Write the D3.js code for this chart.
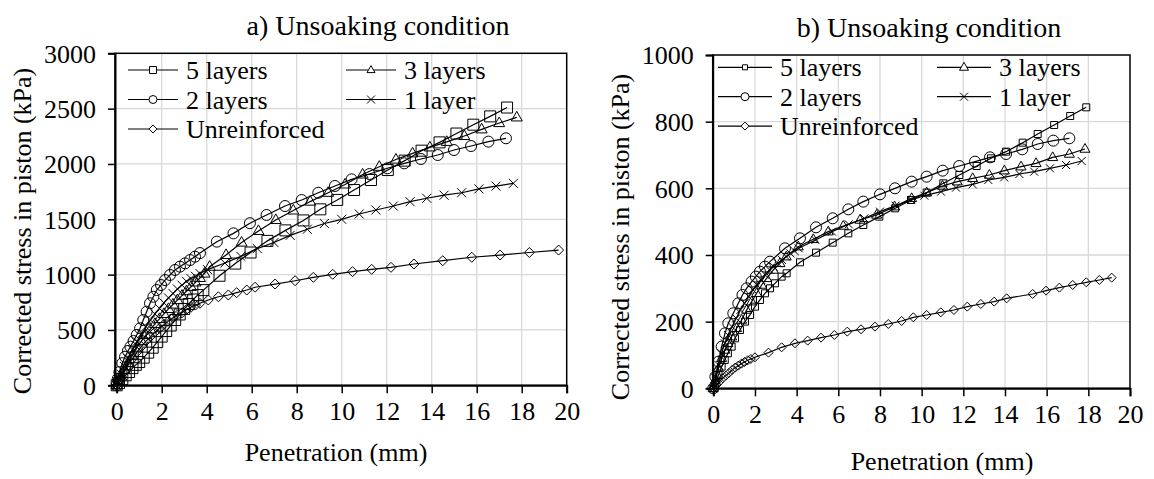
<!DOCTYPE html>
<html>
<head>
<meta charset="utf-8">
<script src="https://cdn.jsdelivr.net/npm/d3@7"></script>
<style>
  body { margin: 0; background: #fff; }
  svg { display: block; }
  text { font-family: "Liberation Serif", "Times New Roman", serif; fill: #000; }
</style>
</head>
<body>
<svg id="chart" width="1154" height="479"></svg>
<script>
// ---- data: [penetration (mm), corrected stress (kPa)] ----
const xTicks = [0, 2, 4, 6, 8, 10, 12, 14, 16, 18, 20];
const yTicksA = [0, 500, 1000, 1500, 2000, 2500, 3000];
const yTicksB = [0, 200, 400, 600, 800, 1000];
const seriesNames = ["5 layers", "3 layers", "2 layers", "1 layer", "Unreinforced"];
const seriesShapes = ["square", "triangle", "circle", "x", "diamond"];

// a) panel
const a5Layers = [[0,0],[0.1,20],[0.25,55],[0.4,90],[0.55,120],[0.7,155],[0.85,185],[1.0,210],[1.2,250],[1.4,295],[1.6,340],[1.8,390],[2.0,440],[2.2,490],[2.4,540],[2.6,590],[2.8,640],[3.0,690],[3.2,735],[3.4,775],[3.6,815],[3.85,860],[4.57,990],[5.27,1100],[5.95,1200],[6.7,1305],[7.5,1400],[8.3,1490],[9.05,1590],[9.8,1675],[10.55,1765],[11.3,1855],[12.05,1945],[12.8,2030],[13.55,2120],[14.35,2195],[15.1,2275],[15.85,2355],[16.6,2430],[17.35,2510]];
const a3Layers = [[0,0],[0.1,40],[0.2,80],[0.35,140],[0.5,200],[0.7,270],[0.9,340],[1.1,400],[1.3,455],[1.5,505],[1.7,555],[1.9,600],[2.1,645],[2.3,690],[2.5,730],[2.7,770],[2.9,810],[3.1,850],[3.3,890],[3.5,930],[3.7,970],[3.9,1010],[4.13,1072],[4.86,1178],[5.55,1290],[6.3,1395],[7.07,1494],[7.85,1580],[8.6,1660],[9.4,1740],[10.15,1815],[10.93,1905],[11.67,1975],[12.41,2040],[13.15,2096],[13.92,2150],[14.67,2200],[15.45,2253],[16.22,2313],[17.0,2370],[17.78,2421]];
const a2Layers = [[0,0],[0.05,60],[0.12,120],[0.25,200],[0.37,258],[0.5,310],[0.61,349],[0.75,400],[0.89,455],[1.04,515],[1.18,590],[1.33,665],[1.48,741],[1.63,800],[1.78,861],[1.97,906],[2.15,951],[2.37,997],[2.59,1042],[2.81,1072],[3.04,1102],[3.26,1132],[3.48,1162],[3.7,1195],[4.45,1298],[5.19,1373],[5.92,1465],[6.66,1539],[7.48,1620],[8.22,1674],[8.96,1740],[9.7,1801],[10.44,1861],[11.23,1909],[12.03,1961],[12.78,2006],[13.52,2045],[14.27,2081],[14.99,2126],[15.75,2162],[16.52,2202],[17.3,2232]];
const a1Layer = [[0,0],[0.1,50],[0.2,100],[0.35,170],[0.5,240],[0.7,320],[0.9,395],[1.1,465],[1.3,530],[1.5,590],[1.7,645],[1.9,695],[2.1,745],[2.3,790],[2.5,830],[2.7,870],[2.9,905],[3.1,940],[3.3,965],[3.5,985],[3.7,1010],[4.04,1045],[4.81,1105],[5.52,1165],[6.25,1235],[6.99,1290],[7.71,1355],[8.47,1410],[9.23,1462],[10.0,1500],[10.78,1548],[11.52,1584],[12.29,1620],[13.04,1659],[13.78,1690],[14.55,1718],[15.33,1740],[16.1,1775],[16.86,1800],[17.63,1825]];
const aUnreinforced = [[0,0],[0.1,40],[0.2,80],[0.35,130],[0.5,180],[0.7,240],[0.9,300],[1.1,350],[1.3,400],[1.5,440],[1.7,480],[1.9,515],[2.1,550],[2.3,580],[2.5,610],[2.7,635],[2.9,655],[3.1,685],[3.3,705],[3.5,725],[3.7,741],[4.07,771],[4.52,800],[4.96,816],[5.33,837],[5.78,861],[6.15,886],[7.04,915],[7.93,945],[8.74,976],[9.6,1003],[10.48,1027],[11.33,1048],[12.19,1066],[13.21,1096],[14.49,1126],[15.78,1157],[17.04,1177],[18.34,1200],[19.64,1222]];

// b) panel
const b5Layers = [[0,0],[0.1,15],[0.25,40],[0.4,65],[0.55,85],[0.7,105],[0.88,125],[1.04,150],[1.28,175],[1.52,200],[1.76,220],[2.0,245],[2.24,265],[2.48,285],[2.72,300],[2.96,315],[3.28,335],[3.52,345],[4.16,378],[4.93,407],[5.73,437],[6.48,465],[7.2,490],[7.97,515],[8.73,540],[9.49,565],[10.24,587],[11.04,615],[11.81,640],[12.64,667],[13.33,690],[14.05,710],[14.85,737],[15.57,763],[16.36,790],[17.13,817],[17.9,843]];
const b3Layers = [[0,0],[0.1,25],[0.25,60],[0.4,90],[0.55,115],[0.7,135],[0.88,155],[1.12,180],[1.36,205],[1.6,235],[1.84,260],[2.08,285],[2.32,310],[2.56,330],[2.88,355],[3.2,375],[3.5,395],[4.08,425],[4.8,447],[5.52,470],[6.24,487],[7.04,505],[7.84,520],[8.7,545],[9.52,570],[10.24,587],[11.0,607],[11.71,620],[12.45,630],[13.25,640],[13.97,653],[14.77,665],[15.49,675],[16.29,693],[17.09,703],[17.84,718]];
const b2Layers = [[0,0],[0.1,35],[0.25,80],[0.4,125],[0.56,165],[0.72,195],[0.96,225],[1.2,255],[1.4,280],[1.6,300],[1.84,320],[2.04,335],[2.24,350],[2.48,365],[2.72,380],[3.44,420],[4.16,450],[4.93,483],[5.73,510],[6.48,537],[7.2,560],[8.0,582],[8.72,600],[9.52,620],[10.24,635],[11.01,653],[11.8,667],[12.56,680],[13.28,693],[14.05,703],[14.83,717],[15.57,733],[16.32,743],[17.09,750]];
const b1Layer = [[0,0],[0.1,30],[0.25,70],[0.4,105],[0.55,135],[0.7,160],[0.9,185],[1.1,210],[1.3,235],[1.5,255],[1.7,275],[1.9,295],[2.1,310],[2.3,325],[2.5,340],[2.7,355],[2.9,365],[3.1,375],[3.3,385],[3.5,395],[3.7,405],[3.9,412],[4.1,420],[4.9,445],[5.7,470],[6.5,492],[7.25,510],[8.0,530],[8.75,548],[9.5,565],[10.13,578],[10.93,590],[11.65,602],[12.45,612],[13.2,625],[13.96,633],[14.69,643],[15.4,650],[16.16,660],[16.93,670],[17.68,682]];
const bUnreinforced = [[0,0],[0.15,10],[0.3,20],[0.45,30],[0.6,38],[0.75,46],[0.9,55],[1.05,62],[1.2,68],[1.35,74],[1.5,79],[1.65,84],[1.8,88],[2.0,93],[2.65,107],[3.28,123],[3.92,135],[4.53,143],[5.17,152],[5.81,160],[6.43,170],[7.09,177],[7.76,185],[8.4,193],[9.04,202],[9.6,213],[10.24,220],[10.92,228],[11.55,235],[12.19,245],[12.84,253],[13.48,260],[14.08,270],[15.33,283],[15.97,293],[16.61,302],[17.25,310],[17.9,318],[18.53,325],[19.12,332]];

const svg = d3.select("#chart");
const serif = '"Liberation Serif", "Times New Roman", serif';

function markerPath(shape, s) {
  const h = s / 2;
  switch (shape) {
    case "square": return `M${-h},${-h}H${h}V${h}H${-h}Z`;
    case "circle": return `M${h},0A${h},${h} 0 1,1 ${-h},0A${h},${h} 0 1,1 ${h},0Z`;
    case "triangle": return `M0,${-h * 1.1}L${h},${h * 0.65}L${-h},${h * 0.65}Z`;
    case "diamond": return `M0,${-h}L${h},0L0,${h}L${-h},0Z`;
    case "x": return `M${-h},${-h}L${h},${h}M${h},${-h}L${-h},${h}`;
  }
}

function drawPanel(p) {
  const x = d3.scaleLinear().domain([0, 20]).range([p.x0, p.x1]);
  const y = d3.scaleLinear().domain([0, p.yMax]).range([p.y0, p.y1]);
  const g = svg.append("g");

  // gridlines
  g.append("g").selectAll("line").data(p.yTicks.slice(1, -1)).join("line")
    .attr("x1", p.frameLeft).attr("x2", p.x1)
    .attr("y1", d => y(d)).attr("y2", d => y(d))
    .attr("stroke", "#d9d9d9").attr("stroke-width", 1.3);
  g.append("g").selectAll("line").data(xTicks.slice(1, -1)).join("line")
    .attr("x1", d => x(d)).attr("x2", d => x(d))
    .attr("y1", p.y1).attr("y2", p.y0)
    .attr("stroke", "#d9d9d9").attr("stroke-width", 1.3);

  // frame
  g.append("rect")
    .attr("x", p.frameLeft).attr("y", p.y1)
    .attr("width", p.x1 - p.frameLeft).attr("height", p.y0 - p.y1)
    .attr("fill", "none").attr("stroke", "#000").attr("stroke-width", 1.5);

  // axes
  const xAxis = g.append("g")
    .attr("transform", `translate(0,${p.y0})`)
    .call(d3.axisBottom(x).tickValues(xTicks).tickFormat(d3.format("d")).tickSize(8).tickPadding(8));
  const yAxis = g.append("g")
    .attr("transform", `translate(${p.frameLeft},0)`)
    .call(d3.axisLeft(y).tickValues(p.yTicks).tickFormat(d3.format("d")).tickSize(7).tickPadding(12));
  [xAxis, yAxis].forEach(a => {
    a.attr("font-family", serif);
    a.select(".domain").attr("stroke-width", 2);
    a.selectAll(".tick line").attr("stroke-width", 1.5);
    a.selectAll("text").attr("font-size", 26).style("font-family", serif);
  });
  yAxis.selectAll("text").attr("dy", "0.34em");

  // series
  const line = d3.line().x(d => x(d[0])).y(d => y(d[1]));
  p.series.forEach((s, i) => {
    g.append("path").datum(s)
      .attr("d", line)
      .attr("fill", "none").attr("stroke", "#000").attr("stroke-width", 1.2);
    g.append("g").selectAll("path").data(s).join("path")
      .attr("transform", d => `translate(${x(d[0])},${y(d[1])})`)
      .attr("d", markerPath(seriesShapes[i], p.markerSizes[i]))
      .attr("fill", "none").attr("stroke", "#000").attr("stroke-width", 1);
  });

  // legend: two columns, three rows
  seriesNames.forEach((name, i) => {
    const col = i % 2, row = Math.floor(i / 2);
    const lx = p.legend.x + col * p.legend.colGap;
    const ly = p.legend.y + row * p.legend.rowGap;
    const lg = g.append("g").attr("transform", `translate(${lx},${ly})`);
    lg.append("line").attr("x1", 0).attr("x2", p.legend.lineLen)
      .attr("stroke", "#000").attr("stroke-width", 1.2);
    lg.append("path")
      .attr("transform", `translate(${p.legend.lineLen / 2},0)`)
      .attr("d", markerPath(seriesShapes[i], p.legend.markerSizes[i]))
      .attr("fill", "#fff").attr("stroke", "#000").attr("stroke-width", 1);
    lg.append("text").attr("x", p.legend.lineLen + 8).attr("y", 9)
      .attr("font-size", 26).style("font-family", serif).text(name);
  });

  // titles
  svg.append("text").attr("x", p.titleX).attr("y", p.titleY)
    .attr("text-anchor", "middle").attr("font-size", 28).style("font-family", serif)
    .text(p.title);
  svg.append("text").attr("x", p.xLabelX).attr("y", p.xLabelY)
    .attr("text-anchor", "middle").attr("font-size", 26).style("font-family", serif)
    .text("Penetration (mm)");
  svg.append("text")
    .attr("transform", `translate(${p.yLabelX},${p.yLabelY}) rotate(-90)`)
    .attr("text-anchor", "middle").attr("font-size", 26).style("font-family", serif)
    .text("Corrected stress in piston (kPa)");
}

drawPanel({
  x0: 116.7, x1: 566.7, frameLeft: 115, y0: 385.3, y1: 53.3, yMax: 3000,
  yTicks: yTicksA,
  series: [a5Layers, a3Layers, a2Layers, a1Layer, aUnreinforced],
  markerSizes: [11, 11, 11, 9, 10],
  legend: { x: 128, y: 70, colGap: 218, rowGap: 29.5, lineLen: 50, markerSizes: [7, 8, 8, 8, 8] },
  title: "a) Unsoaking condition", titleX: 378, titleY: 35,
  xLabelX: 336, xLabelY: 461,
  yLabelX: 31, yLabelY: 231
});

drawPanel({
  x0: 713.3, x1: 1130, frameLeft: 712.7, y0: 388.3, y1: 55, yMax: 1000,
  yTicks: yTicksB,
  series: [b5Layers, b3Layers, b2Layers, b1Layer, bUnreinforced],
  markerSizes: [7, 10, 11, 8, 9],
  legend: { x: 718, y: 67.3, colGap: 219, rowGap: 29.4, lineLen: 54, markerSizes: [5, 9, 8, 8, 8] },
  title: "b) Unsoaking condition", titleX: 929, titleY: 37,
  xLabelX: 942, xLabelY: 470,
  yLabelX: 629, yLabelY: 237
});
</script>
</body>
</html>
